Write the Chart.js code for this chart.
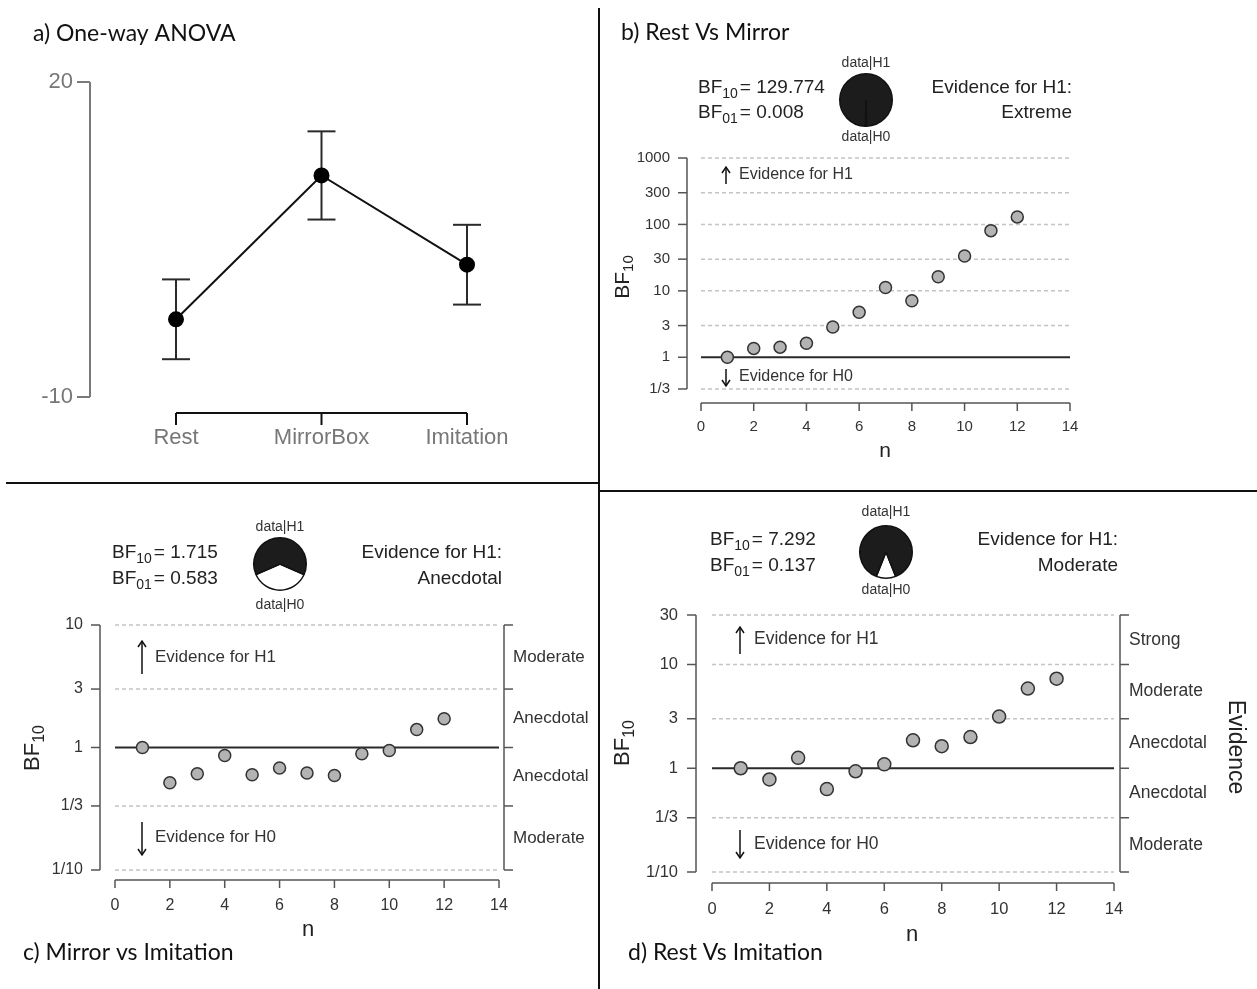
<!DOCTYPE html>
<html>
<head>
<meta charset="utf-8">
<script src="https://cdn.jsdelivr.net/npm/chart.js@4.4.0/dist/chart.umd.min.js"></script>
<style>
    body { margin: 0; background: #fff; width: 1257px; height: 989px; position: relative; overflow: hidden; }
    canvas.layer { position: absolute; left: 0; top: 0; }
    canvas.pie { position: absolute; }
    .rule { position: absolute; background: #111; }
</style>
</head>
<body>
<div class="rule" style="left:598px;top:8px;width:2px;height:981px"></div>
<div class="rule" style="left:6px;top:482px;width:593px;height:2px"></div>
<div class="rule" style="left:599px;top:490px;width:658px;height:2px"></div>

<canvas id="anova" class="layer" width="1257" height="989"></canvas>
<canvas id="seqB" class="layer" width="1257" height="989"></canvas>
<canvas id="seqC" class="layer" width="1257" height="989"></canvas>
<canvas id="seqD" class="layer" width="1257" height="989"></canvas>
<canvas id="pieB" class="pie" width="58" height="58" style="left:837px;top:71px"></canvas>
<canvas id="pieC" class="pie" width="58" height="58" style="left:251px;top:535px"></canvas>
<canvas id="pieD" class="pie" width="58" height="58" style="left:857px;top:523px"></canvas>

<script>
// panel a: group means with error bars
const anovaGroups = ['Rest', 'MirrorBox', 'Imitation'];
const anovaMeans = [-2.6, 11.1, 2.6];
const anovaErrors = [3.8, 4.2, 3.8];
const anovaTicks = [-10, 20];

// sequential Bayes factors, one point per participant
const nValues = [1, 2, 3, 4, 5, 6, 7, 8, 9, 10, 11, 12];
const bfRestMirror = [1.0, 1.36, 1.42, 1.63, 2.85, 4.76, 11.2, 7.1, 16.3, 33.5, 80.6, 129.774];
const bfMirrorImitation = [1.0, 0.515, 0.61, 0.86, 0.60, 0.68, 0.62, 0.59, 0.89, 0.945, 1.40, 1.715];
const bfRestImitation = [1.0, 0.78, 1.26, 0.63, 0.935, 1.09, 1.86, 1.63, 2.0, 3.15, 5.87, 7.292];

const nTicks = [0, 2, 4, 6, 8, 10, 12, 14];
const ticksB = [1 / 3, 1, 3, 10, 30, 100, 300, 1000];
const tickLabelsB = ['1/3', '1', '3', '10', '30', '100', '300', '1000'];
const ticksC = [1 / 10, 1 / 3, 1, 3, 10];
const tickLabelsC = ['1/10', '1/3', '1', '3', '10'];
const ticksD = [1 / 10, 1 / 3, 1, 3, 10, 30];
const tickLabelsD = ['1/10', '1/3', '1', '3', '10', '30'];
// evidence bands, bottom to top
const bandsC = ['Moderate', 'Anecdotal', 'Anecdotal', 'Moderate'];
const bandsD = ['Moderate', 'Anecdotal', 'Anecdotal', 'Moderate', 'Strong'];

// final Bayes factors for the three comparisons (b, c, d)
const bf10 = [129.774, 1.715, 7.292];
const bf01 = [0.008, 0.583, 0.137];
const evidenceWords = ['Extreme', 'Anecdotal', 'Moderate'];
const panelTitles = ['a) One-way ANOVA', 'b) Rest Vs Mirror', 'c) Mirror vs Imitation', 'd) Rest Vs Imitation'];

const W = 1257, H = 989;
const R_FONT = '"Liberation Sans", Arial, sans-serif';
const TITLE_FONT = 'Lato, "Open Sans", sans-serif';

function put(ctx, s, x, y, size, opts = {}) {
    ctx.save();
    ctx.font = `${size}px ${opts.family || R_FONT}`;
    ctx.fillStyle = opts.color || '#222';
    ctx.textAlign = opts.align || 'left';
    ctx.textBaseline = 'middle';
    ctx.translate(x, y);
    if (opts.rotate) ctx.rotate(opts.rotate);
    ctx.fillText(s, 0, 0);
    ctx.restore();
}

// "BF" with a subscript, optionally followed by more text
function putBF(ctx, sub, rest, x, y, size, align = 'left', rotate = 0) {
    ctx.save();
    ctx.translate(x, y);
    ctx.rotate(rotate);
    ctx.fillStyle = '#222';
    ctx.textBaseline = 'middle';
    ctx.textAlign = 'left';
    const big = `${size}px ${R_FONT}`;
    const small = `${Math.round(size * 0.72)}px ${R_FONT}`;
    ctx.font = big; const w1 = ctx.measureText('BF').width;
    ctx.font = small; const w2 = ctx.measureText(sub).width + (rest ? 2 : 0);
    ctx.font = big; const w3 = rest ? ctx.measureText(rest).width : 0;
    const x0 = align === 'center' ? -(w1 + w2 + w3) / 2 : 0;
    ctx.font = big; ctx.fillText('BF', x0, 0);
    ctx.font = small; ctx.fillText(sub, x0 + w1, size * 0.3);
    if (rest) { ctx.font = big; ctx.fillText(rest, x0 + w1 + w2, 0); }
    ctx.restore();
}

function seg(ctx, x1, y1, x2, y2) {
    ctx.beginPath();
    ctx.moveTo(x1, y1);
    ctx.lineTo(x2, y2);
    ctx.stroke();
}

function arrow(ctx, x, yFrom, yTo) {
    const d = yTo > yFrom ? -1 : 1;
    ctx.save();
    ctx.strokeStyle = '#111';
    ctx.lineWidth = 1.5;
    seg(ctx, x, yFrom, x, yTo);
    ctx.beginPath();
    ctx.moveTo(x - 4, yTo + d * 6);
    ctx.lineTo(x, yTo);
    ctx.lineTo(x + 4, yTo + d * 6);
    ctx.stroke();
    ctx.restore();
}

const baseOptions = (box) => ({
    responsive: false,
    animation: false,
    devicePixelRatio: 1,
    events: [],
    layout: { padding: { left: box.left, top: box.top, right: W - box.right, bottom: H - box.bottom } },
    plugins: { legend: { display: false }, tooltip: { enabled: false } }
});

// ---- panel a ----
const anovaBox = { left: 176, right: 467, top: 82, bottom: 397 };

const anovaDecor = {
    id: 'anovaDecor',
    beforeDatasetsDraw(chart) {
        const { ctx, scales: { x, y } } = chart;
        ctx.save();
        ctx.strokeStyle = '#2a2a2a';
        ctx.lineWidth = 2;
        anovaMeans.forEach((m, i) => {
            const px = x.getPixelForValue(i);
            const top = y.getPixelForValue(m + anovaErrors[i]);
            const bot = y.getPixelForValue(m - anovaErrors[i]);
            seg(ctx, px, top, px, bot);
            seg(ctx, px - 14, top, px + 14, top);
            seg(ctx, px - 14, bot, px + 14, bot);
        });
        ctx.restore();
    },
    afterDraw(chart) {
        const { ctx, scales: { x, y } } = chart;
        ctx.save();
        // y axis
        ctx.strokeStyle = '#7a7a7a';
        ctx.lineWidth = 2;
        seg(ctx, 90, y.getPixelForValue(20), 90, y.getPixelForValue(-10));
        anovaTicks.forEach(t => {
            const py = y.getPixelForValue(t);
            seg(ctx, 77, py, 90, py);
            put(ctx, String(t), 73, py, 22, { align: 'right', color: '#777' });
        });
        // x axis
        ctx.strokeStyle = '#111';
        seg(ctx, x.getPixelForValue(0), 413, x.getPixelForValue(2), 413);
        anovaGroups.forEach((g, i) => {
            const px = x.getPixelForValue(i);
            seg(ctx, px, 413, px, 425);
            put(ctx, g, px, 438, 22, { align: 'center', color: '#777' });
        });
        ctx.restore();
        put(ctx, panelTitles[0], 33, 34, 23, { family: TITLE_FONT, color: '#111' });
    }
};

new Chart(document.getElementById('anova').getContext('2d'), {
    type: 'line',
    data: {
        labels: anovaGroups,
        datasets: [{
            data: anovaMeans,
            borderColor: '#111',
            borderWidth: 2,
            tension: 0,
            pointRadius: 7,
            pointBackgroundColor: '#000',
            pointBorderColor: '#000',
            clip: false
        }]
    },
    options: {
        ...baseOptions(anovaBox),
        scales: {
            x: { type: 'category', display: false, offset: false },
            y: { display: false, min: -10, max: 20 }
        }
    },
    plugins: [anovaDecor]
});

// ---- panels b, c, d ----
function makeSequential(canvasId, values, yTicks, yLabels, bands, box, head) {
    const decor = {
        id: 'decor_' + canvasId,
        beforeDatasetsDraw(chart) {
            const { ctx, scales: { x, y } } = chart;
            const x0 = x.getPixelForValue(0), x1 = x.getPixelForValue(14);
            ctx.save();
            ctx.strokeStyle = '#c4c4c4';
            ctx.lineWidth = 1.5;
            ctx.setLineDash([4, 3]);
            yTicks.forEach(t => {
                if (t === 1) return;
                const py = y.getPixelForValue(t);
                seg(ctx, x0, py, x1, py);
            });
            ctx.setLineDash([]);
            ctx.strokeStyle = '#2a2a2a';
            ctx.lineWidth = 2;
            const p1 = y.getPixelForValue(1);
            seg(ctx, x0, p1, x1, p1);
            ctx.restore();
        },
        afterDraw(chart) {
            const { ctx, scales: { x, y } } = chart;
            const yTop = y.getPixelForValue(yTicks[yTicks.length - 1]);
            const yBot = y.getPixelForValue(yTicks[0]);
            ctx.save();
            ctx.strokeStyle = '#555';
            ctx.lineWidth = 1.5;
            // left axis
            seg(ctx, box.yAxisX, yTop, box.yAxisX, yBot);
            yTicks.forEach((t, i) => {
                const py = y.getPixelForValue(t);
                seg(ctx, box.yAxisX - 9, py, box.yAxisX, py);
                put(ctx, yLabels[i], box.yLabelRight, py, box.tickFont, { align: 'right', color: '#333' });
            });
            // bottom axis
            seg(ctx, x.getPixelForValue(0), box.xAxisY, x.getPixelForValue(14), box.xAxisY);
            nTicks.forEach(t => {
                const px = x.getPixelForValue(t);
                seg(ctx, px, box.xAxisY, px, box.xAxisY + 8);
                put(ctx, String(t), px, box.xLabelY, box.tickFont, { align: 'center', color: '#333' });
            });
            // evidence axis on the right
            if (bands) {
                seg(ctx, box.rightAxisX, yTop, box.rightAxisX, yBot);
                yTicks.forEach(t => {
                    const py = y.getPixelForValue(t);
                    seg(ctx, box.rightAxisX, py, box.rightAxisX + 9, py);
                });
                bands.forEach((b, i) => {
                    const mid = Math.sqrt(yTicks[i] * yTicks[i + 1]);
                    put(ctx, b, box.rightLabelX, y.getPixelForValue(mid), box.textFont, { color: '#333' });
                });
            }
            ctx.restore();
            if (box.evidenceTitle) {
                put(ctx, 'Evidence', box.evidenceTitle.x, box.evidenceTitle.y, 23,
                    { align: 'center', rotate: Math.PI / 2, color: '#222' });
            }
            put(ctx, 'n', box.nLabel.x, box.nLabel.y, box.titleFont, { align: 'center' });
            putBF(ctx, '10', '', box.bfTitle.x, box.bfTitle.y, box.titleFont, 'center', -Math.PI / 2);

            arrow(ctx, box.up.x, box.up.from, box.up.to);
            put(ctx, 'Evidence for H1', box.textX, box.up.textY, box.textFont, { color: '#333' });
            arrow(ctx, box.down.x, box.down.from, box.down.to);
            put(ctx, 'Evidence for H0', box.textX, box.down.textY, box.textFont, { color: '#333' });

            // header: Bayes factors, pie labels, verdict
            const k = head.index;
            putBF(ctx, '10', '= ' + bf10[k].toFixed(3), head.bfX, head.y1, 19);
            putBF(ctx, '01', '= ' + bf01[k].toFixed(3), head.bfX, head.y2, 19);
            put(ctx, 'data|H1', head.pieX, head.h1Y, 14, { align: 'center', color: '#333' });
            put(ctx, 'data|H0', head.pieX, head.h0Y, 14, { align: 'center', color: '#333' });
            put(ctx, 'Evidence for H1:', head.evRight, head.y1, 19, { align: 'right' });
            put(ctx, evidenceWords[k], head.evRight, head.y2, 19, { align: 'right' });
            put(ctx, panelTitles[k + 1], head.title.x, head.title.y, 23, { family: TITLE_FONT, color: '#111' });
        }
    };

    return new Chart(document.getElementById(canvasId).getContext('2d'), {
        type: 'scatter',
        data: {
            datasets: [{
                data: nValues.map((n, i) => ({ x: n, y: values[i] })),
                pointRadius: box.pointR,
                pointBackgroundColor: '#b3b3b3',
                pointBorderColor: '#333',
                pointBorderWidth: 1.5,
                clip: false
            }]
        },
        options: {
            ...baseOptions(box),
            scales: {
                x: { type: 'linear', display: false, min: 0, max: 14 },
                y: { type: 'logarithmic', display: false, min: yTicks[0], max: yTicks[yTicks.length - 1] }
            }
        },
        plugins: [decor]
    });
}

makeSequential('seqB', bfRestMirror, ticksB, tickLabelsB, null, {
    left: 701, right: 1070, top: 158, bottom: 392,
    yAxisX: 687, yLabelRight: 670, xAxisY: 403, xLabelY: 427,
    nLabel: { x: 885, y: 451 }, bfTitle: { x: 623, y: 277 },
    up: { x: 726, from: 184, to: 167, textY: 175 },
    down: { x: 726, from: 369, to: 386, textY: 377 },
    textX: 739, tickFont: 15, textFont: 16, titleFont: 21, pointR: 6
}, { index: 0, bfX: 698, y1: 88, y2: 113, pieX: 866, h1Y: 63, h0Y: 137, evRight: 1072, title: { x: 621, y: 33 } });

makeSequential('seqC', bfMirrorImitation, ticksC, tickLabelsC, bandsC, {
    left: 115, right: 499, top: 625, bottom: 870,
    yAxisX: 100, yLabelRight: 83, xAxisY: 880, xLabelY: 906,
    nLabel: { x: 308, y: 930 }, bfTitle: { x: 33, y: 748 },
    up: { x: 142, from: 674, to: 641, textY: 657 },
    down: { x: 142, from: 822, to: 855, textY: 837 },
    textX: 155, tickFont: 16, textFont: 17, titleFont: 22, pointR: 6,
    rightAxisX: 504, rightLabelX: 513
}, { index: 1, bfX: 112, y1: 553, y2: 579, pieX: 280, h1Y: 527, h0Y: 605, evRight: 502, title: { x: 23, y: 953 } });

makeSequential('seqD', bfRestImitation, ticksD, tickLabelsD, bandsD, {
    left: 712, right: 1114, top: 615, bottom: 872,
    yAxisX: 696, yLabelRight: 678, xAxisY: 883, xLabelY: 909,
    nLabel: { x: 912, y: 935 }, bfTitle: { x: 623, y: 743 },
    up: { x: 740, from: 654, to: 627, textY: 639 },
    down: { x: 740, from: 830, to: 858, textY: 844 },
    textX: 754, tickFont: 16.5, textFont: 17.5, titleFont: 22, pointR: 6.5,
    rightAxisX: 1120, rightLabelX: 1129, evidenceTitle: { x: 1235, y: 747 }
}, { index: 2, bfX: 710, y1: 540, y2: 566, pieX: 886, h1Y: 512, h0Y: 590, evRight: 1118, title: { x: 628, y: 953 } });

// probability wheels: white share is data|H0, centred at the bottom
function makePie(canvasId, k) {
    const pH1 = bf10[k] / (1 + bf10[k]);
    const pH0 = 1 - pH1;
    new Chart(document.getElementById(canvasId).getContext('2d'), {
        type: 'pie',
        data: {
            datasets: [{
                data: [pH0, pH1],
                backgroundColor: ['#ffffff', '#1c1c1c'],
                borderColor: '#111',
                borderWidth: 1.5
            }]
        },
        options: {
            responsive: false,
            animation: false,
            devicePixelRatio: 1,
            events: [],
            rotation: 180 - 180 * pH0,
            layout: { padding: 2 },
            plugins: { legend: { display: false }, tooltip: { enabled: false } }
        }
    });
}

makePie('pieB', 0);
makePie('pieC', 1);
makePie('pieD', 2);
</script>
</body>
</html>
